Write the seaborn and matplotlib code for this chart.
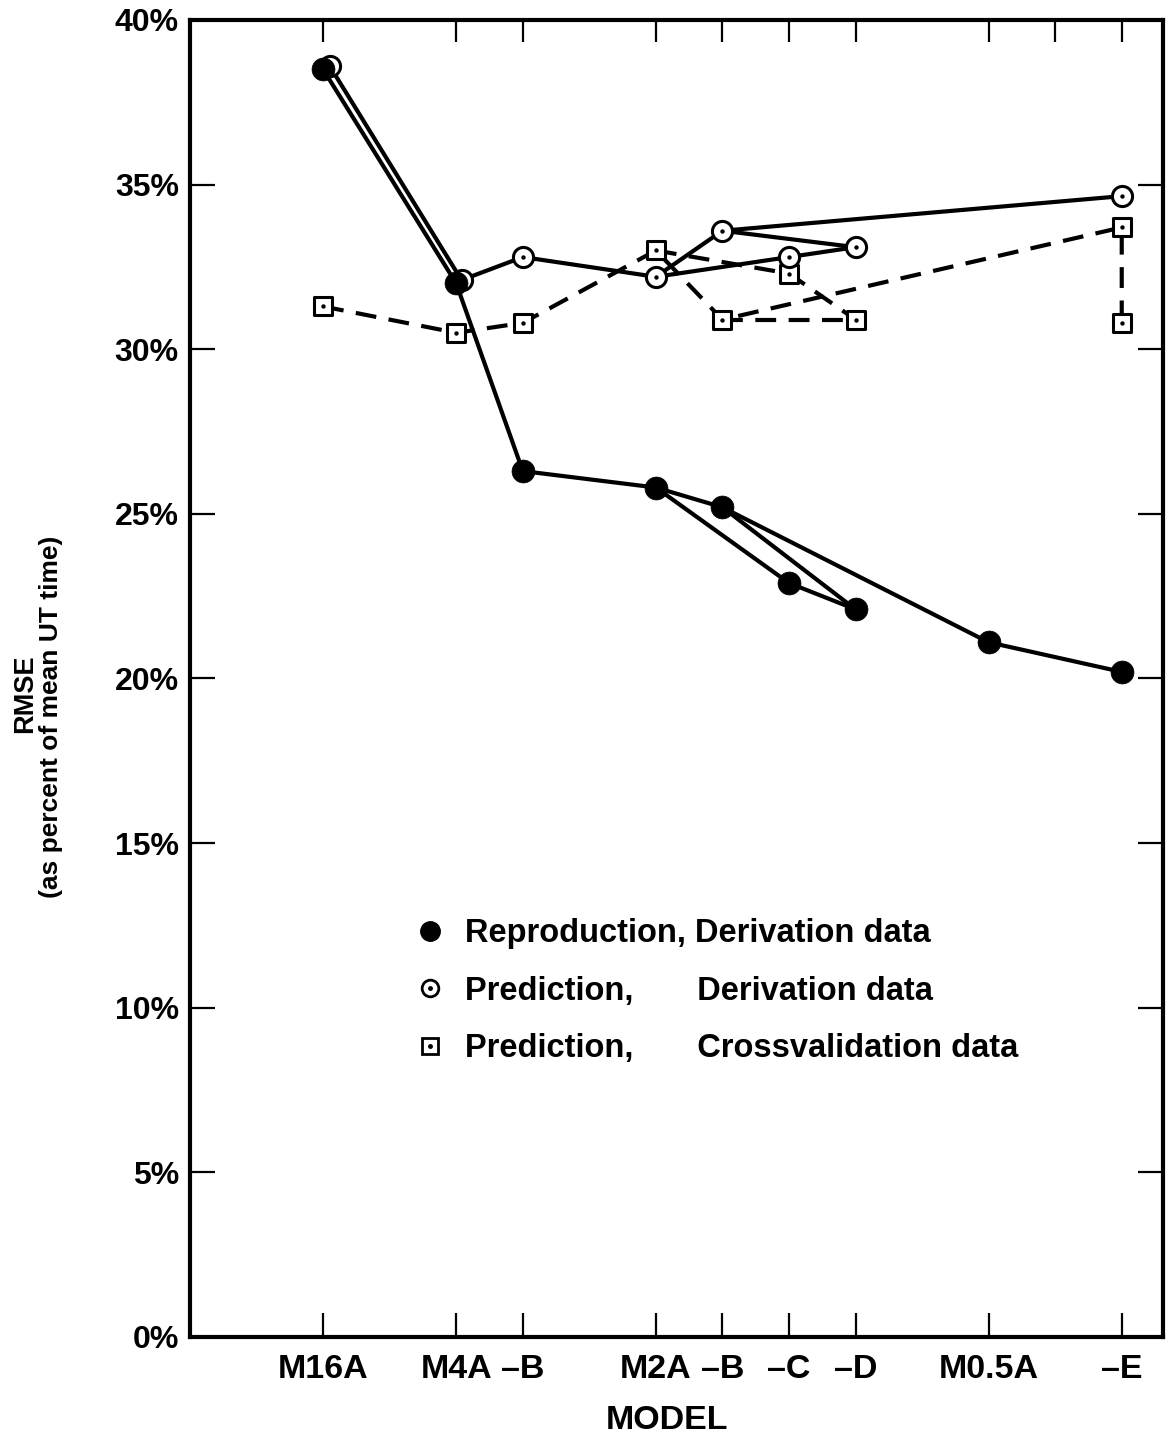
import matplotlib
matplotlib.use('Agg')
import matplotlib.pyplot as plt
from matplotlib.lines import Line2D
import pandas as pd
import seaborn as sns

# model positions along the x axis
model_ids = ['M16A', 'M4A', 'M4B', 'M2A', 'M2B', 'M2C', 'M2D', 'M0.5A', 'M0.5E']
tick_labels = ['M16A', 'M4A', '–B', 'M2A', '–B', '–C', '–D', 'M0.5A', '–E']
model_pos = [2, 4, 5, 7, 8, 9, 10, 12, 14]
top_tick_pos = [2, 4, 5, 7, 8, 9, 10, 12, 13, 14]

# RMSE in percent of mean UT time
repro_ids = ['M16A', 'M4A', 'M4B', 'M2A', 'M2B', 'M2C', 'M2D', 'M0.5A', 'M0.5E']
repro_rmse = [38.5, 32.0, 26.3, 25.8, 25.2, 22.9, 22.1, 21.1, 20.2]

pred_ids = ['M16A', 'M4A', 'M4B', 'M2A', 'M2B', 'M2C', 'M2D', 'M0.5E']
pred_rmse = [38.6, 32.1, 32.8, 32.2, 33.6, 32.8, 33.1, 34.65]

cross_ids = ['M16A', 'M4A', 'M4B', 'M2A', 'M2B', 'M2C', 'M2D', 'M0.5E', 'M0.5E*']
cross_rmse = [31.3, 30.5, 30.8, 33.0, 30.9, 32.3, 30.9, 33.7, 30.8]

# which points get joined (ids a series doesn't have are skipped)
paths = [
    ['M16A', 'M4A', 'M4B', 'M2A', 'M2B', 'M0.5A', 'M0.5E', 'M0.5E*'],
    ['M2A', 'M2C', 'M2D'],
    ['M2B', 'M2D'],
]

y_ticks = [0, 5, 10, 15, 20, 25, 30, 35, 40]

# open circles sit just right of the filled ones where they overlap
NUDGE = {'M16A': 0.1, 'M4A': 0.08}


def series_frame(ids, vals, nudge=None):
    pos = dict(zip(model_ids, model_pos))
    lookup = dict(zip(ids, vals))
    nudge = nudge or {}
    rows = []
    for k, path in enumerate(paths):
        for pid in path:
            if pid in lookup:
                rows.append({'path': k, 'x': pos[pid.rstrip('*')] + nudge.get(pid, 0),
                             'y': lookup[pid], 'id': pid})
    return pd.DataFrame(rows)


def points_frame(ids, vals, nudge=None):
    pos = dict(zip(model_ids, model_pos))
    nudge = nudge or {}
    return pd.DataFrame({'x': [pos[i.rstrip('*')] + nudge.get(i, 0) for i in ids], 'y': vals})


sns.set_theme(style='ticks')
plt.rcParams['font.family'] = ['Liberation Sans', 'DejaVu Sans']
plt.rcParams['font.weight'] = 'bold'
plt.rcParams['text.color'] = 'black'

fig = plt.figure(figsize=(11.67, 14.38), dpi=100)
ax = fig.add_axes([190 / 1167, 1 - 1337 / 1438, (1163 - 190) / 1167, (1337 - 20) / 1438])

lw = 3
cross_lines = series_frame(cross_ids, cross_rmse)
pred_lines = series_frame(pred_ids, pred_rmse, NUDGE)
repro_lines = series_frame(repro_ids, repro_rmse)

sns.lineplot(data=cross_lines, x='x', y='y', units='path', estimator=None, sort=False,
             color='black', lw=lw, linestyle=(0, (5, 3)), ax=ax, legend=False, zorder=1)
sns.lineplot(data=pred_lines, x='x', y='y', units='path', estimator=None, sort=False,
             color='black', lw=lw, ax=ax, legend=False, zorder=1)
sns.lineplot(data=repro_lines, x='x', y='y', units='path', estimator=None, sort=False,
             color='black', lw=lw, ax=ax, legend=False, zorder=1)

cross_pts = points_frame(cross_ids, cross_rmse)
pred_pts = points_frame(pred_ids, pred_rmse, NUDGE)
repro_pts = points_frame(repro_ids, repro_rmse)

sns.scatterplot(data=cross_pts, x='x', y='y', marker='s', s=12.5 ** 2, color='white',
                edgecolor='black', linewidth=2.2, ax=ax, zorder=3)
sns.scatterplot(data=cross_pts, x='x', y='y', marker='o', s=10, color='black',
                linewidth=0, ax=ax, zorder=4)
sns.scatterplot(data=pred_pts, x='x', y='y', marker='o', s=14.5 ** 2, color='white',
                edgecolor='black', linewidth=2.2, ax=ax, zorder=3)
sns.scatterplot(data=pred_pts, x='x', y='y', marker='o', s=10, color='black',
                linewidth=0, ax=ax, zorder=4)
sns.scatterplot(data=repro_pts, x='x', y='y', marker='o', s=16.5 ** 2, color='black',
                edgecolor='black', linewidth=0.5, ax=ax, zorder=5)

ax.set_xlim(0, 14.62)
ax.set_ylim(0, 40)
ax.set_xticks(model_pos)
ax.set_xticklabels(tick_labels)
ax.set_yticks(y_ticks)
ax.set_yticklabels([f'{t}%' for t in y_ticks])
ax.tick_params(axis='both', colors='black', width=1.6)
ax.tick_params(axis='y', labelsize=23, direction='in', left=True, right=True, length=18, pad=8)
ax.tick_params(axis='x', labelsize=24.5, direction='in', bottom=True, top=False, length=17, pad=12)
for sp in ax.spines.values():
    sp.set_visible(True)
    sp.set_linewidth(3)
    sp.set_color('black')
ax.set_facecolor('white')

# top edge has its own tick marks, no labels
top = ax.secondary_xaxis('top')
top.set_xticks(top_tick_pos)
top.set_xticklabels([])
top.tick_params(direction='in', length=16, width=1.6, colors='black')
top.spines['top'].set_visible(False)

ax.set_xlabel('MODEL', fontsize=24.5, fontweight='bold', color='black')
ax.xaxis.set_label_coords(0.49, -0.052)
ax.set_ylabel('')
# the two label lines are not quite centred on each other in the original
fig.text(25 / 1167, 1 - 694 / 1438, 'RMSE', rotation=90, ha='center', va='center',
         fontsize=19.5, fontweight='bold', color='black')
fig.text(51 / 1167, 1 - 717 / 1438, '(as percent of mean UT time)', rotation=90,
         ha='center', va='center', fontsize=19, fontweight='bold', color='black')

dot = Line2D([], [], ls='none', marker='o', ms=2.5, color='black')
handles = [
    Line2D([], [], ls='none', marker='o', ms=14, color='black'),
    (Line2D([], [], ls='none', marker='o', ms=12, mfc='white', mec='black', mew=2), dot),
    (Line2D([], [], ls='none', marker='s', ms=11, mfc='white', mec='black', mew=2), dot),
]
labels = [
    'Reproduction, Derivation data',
    'Prediction,       Derivation data',
    'Prediction,       Crossvalidation data',
]
leg = ax.legend(handles, labels, loc='upper left', bbox_to_anchor=(0.230, 0.318), frameon=False,
                borderpad=0, borderaxespad=0, handlelength=1.0, handletextpad=0.56,
                labelspacing=0.81, prop={'size': 23.5, 'weight': 'bold'})
for t in leg.get_texts():
    t.set_color('black')

fig.savefig('out.png', dpi=100, facecolor='white')
